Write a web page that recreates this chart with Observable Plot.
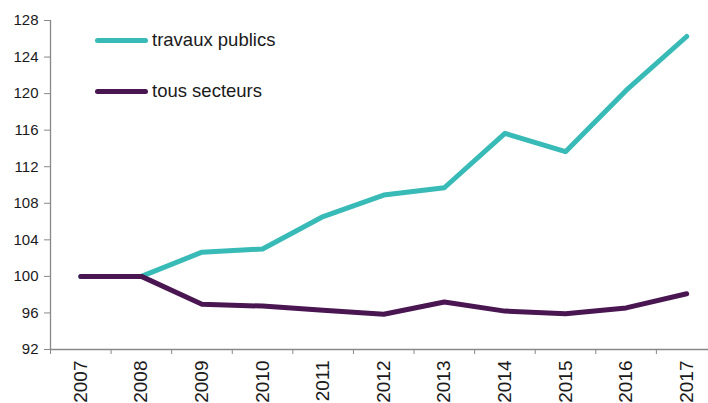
<!DOCTYPE html>
<html><head><meta charset="utf-8">
<script src="https://cdn.jsdelivr.net/npm/d3@7"></script>
<script src="https://cdn.jsdelivr.net/npm/@observablehq/plot@0.6"></script>
<style>
body{margin:0;background:#fff;font-family:"Liberation Sans",Arial,sans-serif;overflow:hidden;}
#wrap{position:relative;width:708px;height:403px;overflow:hidden;}
.leg{position:absolute;left:95px;display:flex;align-items:center;font-size:18.5px;color:#1a1a1a;line-height:20px;}
.sw{width:53px;height:5px;border-radius:3px;margin-right:4px;}
</style></head>
<body><div id="wrap"></div>
<script>
const years = [2007,2008,2009,2010,2011,2012,2013,2014,2015,2016,2017];
const travauxPublics = [100,100,102.65,103.0,106.55,108.9,109.7,115.65,113.65,120.35,126.25];
const tousSecteurs = [100,100,96.95,96.75,96.3,95.85,97.2,96.2,95.9,96.55,98.1];
const yTicks = [92,96,100,104,108,112,116,120,124,128];
const seriesNames = ["travaux publics","tous secteurs"];
const colors = ["#38bab7","#4a1652"];

const data = [];
years.forEach((yr,i)=>{
  data.push({year:yr, value:travauxPublics[i], series:seriesNames[0]});
  data.push({year:yr, value:tousSecteurs[i], series:seriesNames[1]});
});
const bounds = years.slice(0,-1).map(y=>y+0.5).concat([years[0]-0.5]);
const x0 = years[0]-0.5;

const chart = Plot.plot({
  width:708, height:403,
  marginLeft:50, marginRight:0, marginTop:20, marginBottom:54,
  style:{fontFamily:"Liberation Sans, Arial, sans-serif", fontSize:"14px", color:"#1a1a1a", background:"#fff"},
  x:{domain:[x0, years[years.length-1]+0.36], label:null},
  y:{domain:[yTicks[0], yTicks[yTicks.length-1]], label:null},
  color:{domain:seriesNames, range:colors},
  marks:[
    Plot.axisY({ticks:yTicks, tickSize:6, tickPadding:6, stroke:"#888", fontSize:15, label:null, tickFormat:d=>String(d)}),
    Plot.axisX({ticks:bounds, tickSize:5, stroke:"#888", label:null, tickFormat:()=>""}),
    Plot.axisX({ticks:years, tickSize:0, tickPadding:11, tickRotate:-90, fontSize:19, label:null, tickFormat:d=>String(d)}),
    Plot.ruleY([yTicks[0]], {stroke:"#888", strokeWidth:1.3}),
    Plot.ruleX([x0], {stroke:"#888", strokeWidth:1.3}),
    Plot.lineY(data, {x:"year", y:"value", z:"series", stroke:"series", strokeWidth:5, strokeLinecap:"round", strokeLinejoin:"round"})
  ]
});
const wrap = document.getElementById("wrap");
wrap.appendChild(chart);
seriesNames.forEach((n,i)=>{
  const d = document.createElement("div");
  d.className="leg";
  d.style.top = (i===0? 30 : 81)+"px";
  d.innerHTML = `<span class="sw" style="background:${colors[i]}"></span><span>${n}</span>`;
  wrap.appendChild(d);
});
</script></body></html>
